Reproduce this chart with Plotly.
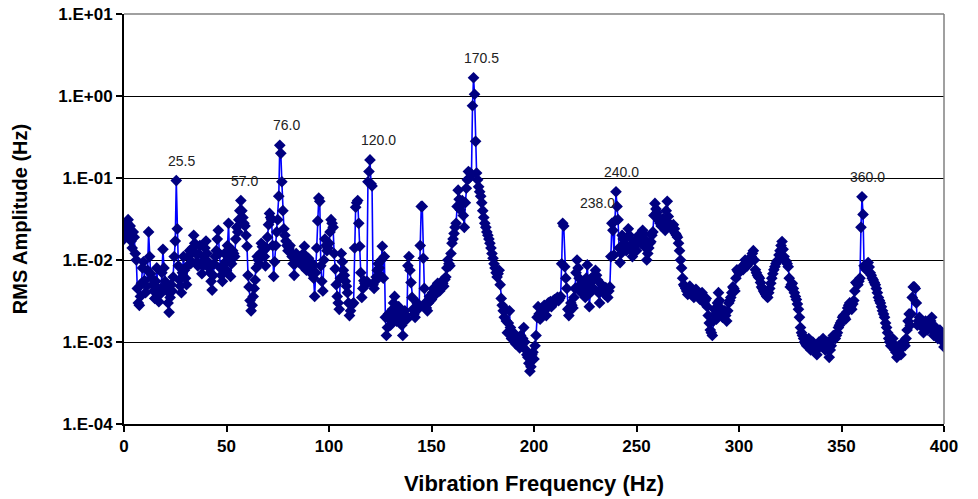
import math
import plotly.graph_objects as go

# ---------------- data ----------------
# samples on whole-Hz bins: 0, 1, ..., 400 Hz
freq_hz = list(range(0, 401))
rms_amp = [
    0.018, 0.022, 0.031, 0.026, 0.014, 0.019, 0.010, 0.0030, 0.0036, 0.0080,
    0.0056, 0.0048, 0.022, 0.0068, 0.0050, 0.0034, 0.0080, 0.0031, 0.0045, 0.0135,
    0.0055, 0.0042, 0.0023, 0.0050, 0.0062, 0.017, 0.024, 0.0057, 0.0040, 0.011,
    0.0060, 0.0085, 0.0130, 0.0095, 0.020, 0.012, 0.0085, 0.015, 0.0068, 0.011,
    0.017, 0.0095, 0.0070, 0.0043, 0.0090, 0.013, 0.023, 0.0080, 0.0055, 0.012,
    0.0075, 0.028, 0.0063, 0.013, 0.011, 0.025, 0.031, 0.053, 0.033, 0.026,
    0.0147, 0.0047, 0.0024, 0.0036, 0.0057, 0.011, 0.0090, 0.016, 0.013, 0.0085,
    0.019, 0.037, 0.031, 0.0063, 0.015, 0.031, 0.25, 0.090, 0.024, 0.017,
    0.013, 0.015, 0.011, 0.0065, 0.012, 0.0095, 0.011, 0.0085, 0.0147, 0.0075,
    0.0105, 0.0070, 0.0090, 0.0036, 0.014, 0.057, 0.0085, 0.0042, 0.018, 0.013,
    0.016, 0.031, 0.025, 0.0078, 0.0036, 0.0025, 0.012, 0.0075, 0.0055, 0.0040,
    0.0021, 0.0028, 0.0030, 0.044, 0.053, 0.0147, 0.0035, 0.0056, 0.0050, 0.090,
    0.166, 0.080, 0.0045, 0.0062, 0.0090, 0.0065, 0.0147, 0.011, 0.0012, 0.0022,
    0.0016, 0.0025, 0.0036, 0.0018, 0.0027, 0.0020, 0.0012, 0.0024, 0.0019, 0.011,
    0.0053, 0.0025, 0.0020, 0.0030, 0.0026, 0.045, 0.0105, 0.0030, 0.0024, 0.0036,
    0.0033, 0.0045, 0.0038, 0.0052, 0.0042, 0.0055, 0.0048, 0.0062, 0.0100, 0.0085,
    0.016, 0.021, 0.028, 0.071, 0.041, 0.053, 0.025, 0.075, 0.12, 0.115,
    0.76, 1.05, 0.115, 0.078, 0.060, 0.040, 0.028, 0.022, 0.018, 0.014,
    0.0105, 0.0080, 0.0062, 0.0075, 0.0034, 0.0024, 0.0025, 0.0013, 0.0024, 0.0011,
    0.0013, 0.00095, 0.0011, 0.00085, 0.0009, 0.0015, 0.0008, 0.00065, 0.00044, 0.0007,
    0.00062, 0.0012, 0.0027, 0.0019, 0.0024, 0.0028, 0.0021, 0.0030, 0.0031, 0.0030,
    0.0033, 0.0034, 0.0032, 0.0036, 0.028, 0.0083, 0.0045, 0.0021, 0.0030, 0.0026,
    0.0045, 0.010, 0.0060, 0.0040, 0.0055, 0.0035, 0.0087, 0.0027, 0.0060, 0.0045,
    0.0075, 0.0057, 0.0030, 0.0050, 0.0042, 0.0046, 0.0035, 0.0047, 0.028, 0.0115,
    0.068, 0.031, 0.0093, 0.020, 0.016, 0.013, 0.024, 0.015, 0.011, 0.017,
    0.013, 0.020, 0.016, 0.023, 0.018, 0.010, 0.014, 0.0167, 0.022, 0.049,
    0.038, 0.030, 0.026, 0.032, 0.023, 0.052, 0.028, 0.024, 0.027, 0.021,
    0.019, 0.013, 0.0080, 0.0050, 0.0045, 0.0038, 0.0048, 0.0040, 0.0035, 0.0044,
    0.0037, 0.0033, 0.0040, 0.0030, 0.0034, 0.0021, 0.0014, 0.0012, 0.0025, 0.0019,
    0.0040, 0.0026, 0.0020, 0.0024, 0.0018, 0.0030, 0.0035, 0.0047, 0.0042, 0.0076,
    0.0070, 0.0080, 0.0076, 0.010, 0.0085, 0.0095, 0.011, 0.013, 0.0076, 0.0065,
    0.0060, 0.0047, 0.0042, 0.0038, 0.0035, 0.0045, 0.0060, 0.0076, 0.0090, 0.010,
    0.013, 0.0168, 0.011, 0.0095, 0.0083, 0.0047, 0.0052, 0.0040, 0.0033, 0.0025,
    0.0015, 0.0012, 0.0010, 0.0009, 0.0011, 0.0008, 0.0010, 0.00085, 0.0007, 0.0010,
    0.0009, 0.0011, 0.0008, 0.0010, 0.00065, 0.0009, 0.0012, 0.0011, 0.0013, 0.0016,
    0.0018, 0.0021, 0.0019, 0.0026, 0.0030, 0.0025, 0.0032, 0.0053, 0.0050, 0.0060,
    0.059, 0.0085, 0.0076, 0.0093, 0.0070, 0.0060, 0.0053, 0.0045, 0.0035, 0.0030,
    0.0024, 0.0020, 0.0015, 0.0011, 0.0009, 0.0011, 0.0008, 0.00065, 0.0009, 0.0007,
    0.0010, 0.0009, 0.0014, 0.0022, 0.0022, 0.0047, 0.0045, 0.0016, 0.0020, 0.0017,
    0.0013, 0.0018, 0.0014, 0.0016, 0.0020, 0.0012, 0.0015, 0.0011, 0.0014, 0.0012,
    0.00087,
]
# samples on half-Hz bins: 0.5, 1.5, ..., 399.5 Hz
half_freq_hz = [i + 0.5 for i in range(400)]
half_rms_amp = [
    0.024, 0.028, 0.020, 0.017, 0.022, 0.012, 0.0045, 0.0028, 0.0052, 0.0095,
    0.0040, 0.0075, 0.0110, 0.0060, 0.0042, 0.0055, 0.0045, 0.0038, 0.0070, 0.0080,
    0.0048, 0.0030, 0.0035, 0.0042, 0.0110, 0.093, 0.0085, 0.0048, 0.0070, 0.0075,
    0.0050, 0.0110, 0.0090, 0.0140, 0.0160, 0.0095, 0.0120, 0.0090, 0.0085, 0.0140,
    0.0120, 0.0080, 0.0055, 0.0065, 0.0110, 0.0180, 0.0120, 0.0065, 0.0085, 0.0095,
    0.0150, 0.0110, 0.0090, 0.0120, 0.0180, 0.022, 0.040, 0.040, 0.028, 0.020,
    0.0065, 0.0032, 0.0028, 0.0045, 0.0080, 0.0100, 0.0120, 0.0145, 0.0110, 0.0140,
    0.027, 0.033, 0.0150, 0.0095, 0.022, 0.060, 0.20, 0.040, 0.020, 0.0150,
    0.0140, 0.0125, 0.0090, 0.0090, 0.0110, 0.0100, 0.0095, 0.0120, 0.0100, 0.0090,
    0.0085, 0.0080, 0.0060, 0.0070, 0.030, 0.052, 0.0055, 0.0100, 0.0150, 0.0140,
    0.022, 0.028, 0.0120, 0.0050, 0.0030, 0.0060, 0.0095, 0.0065, 0.0048, 0.0030,
    0.0024, 0.0029, 0.0140, 0.050, 0.028, 0.0070, 0.0045, 0.0052, 0.0055, 0.120,
    0.085, 0.0050, 0.0055, 0.0075, 0.0080, 0.0100, 0.0060, 0.0020, 0.0015, 0.0019,
    0.0021, 0.0030, 0.0024, 0.0022, 0.0023, 0.0016, 0.0018, 0.0021, 0.0085, 0.0075,
    0.0035, 0.0022, 0.0025, 0.0028, 0.0150, 0.045, 0.0045, 0.0026, 0.0030, 0.0032,
    0.0040, 0.0042, 0.0046, 0.0047, 0.0050, 0.0052, 0.0058, 0.0080, 0.0090, 0.0120,
    0.018, 0.025, 0.045, 0.055, 0.047, 0.035, 0.050, 0.095, 0.100, 0.110,
    1.67, 0.28, 0.095, 0.068, 0.050, 0.033, 0.025, 0.020, 0.016, 0.012,
    0.0090, 0.0070, 0.0068, 0.0050, 0.0028, 0.0020, 0.0018, 0.0017, 0.0015, 0.0012,
    0.0011, 0.0010, 0.0009, 0.0012, 0.0011, 0.0010, 0.0007, 0.00055, 0.0005, 0.00075,
    0.0009, 0.0020, 0.0022, 0.0021, 0.0026, 0.0025, 0.0026, 0.0028, 0.0027, 0.0032,
    0.0031, 0.0035, 0.0034, 0.0090, 0.026, 0.0060, 0.0025, 0.0024, 0.0028, 0.0035,
    0.0070, 0.0080, 0.0050, 0.0048, 0.0042, 0.0060, 0.0050, 0.0040, 0.0055, 0.0065,
    0.0065, 0.0040, 0.0042, 0.0046, 0.0038, 0.0040, 0.0042, 0.0110, 0.023, 0.030,
    0.045, 0.014, 0.012, 0.018, 0.014, 0.019, 0.020, 0.013, 0.014, 0.015,
    0.017, 0.018, 0.019, 0.021, 0.014, 0.012, 0.016, 0.020, 0.035, 0.042,
    0.034, 0.028, 0.029, 0.026, 0.040, 0.034, 0.026, 0.025, 0.024, 0.020,
    0.016, 0.010, 0.0060, 0.0048, 0.0042, 0.0043, 0.0044, 0.0037, 0.0040, 0.0040,
    0.0035, 0.0036, 0.0035, 0.0032, 0.0027, 0.0017, 0.0013, 0.0018, 0.0022, 0.0030,
    0.0032, 0.0023, 0.0022, 0.0021, 0.0024, 0.0032, 0.0040, 0.0045, 0.0060, 0.0073,
    0.0075, 0.0078, 0.0088, 0.0092, 0.0090, 0.0100, 0.0120, 0.0100, 0.0070, 0.0062,
    0.0053, 0.0045, 0.0040, 0.0036, 0.0040, 0.0052, 0.0068, 0.0083, 0.0095, 0.0115,
    0.0150, 0.0135, 0.0100, 0.0090, 0.0060, 0.0050, 0.0045, 0.0036, 0.0029, 0.0020,
    0.0013, 0.0011, 0.00095, 0.0010, 0.0009, 0.0009, 0.0009, 0.00078, 0.0009, 0.00095,
    0.0010, 0.0009, 0.0009, 0.0008, 0.0008, 0.0011, 0.0012, 0.0012, 0.0015, 0.0017,
    0.0020, 0.0020, 0.0023, 0.0028, 0.0027, 0.0029, 0.0042, 0.0052, 0.0055, 0.025,
    0.036, 0.0080, 0.0085, 0.0082, 0.0065, 0.0057, 0.0050, 0.0040, 0.0032, 0.0027,
    0.0022, 0.0017, 0.0013, 0.0010, 0.0010, 0.0009, 0.00075, 0.0008, 0.0008, 0.0009,
    0.00095, 0.0011, 0.0018, 0.0016, 0.0035, 0.0047, 0.0030, 0.0018, 0.0018, 0.0015,
    0.0016, 0.0016, 0.0015, 0.0018, 0.0016, 0.0013, 0.0013, 0.0012, 0.0013, 0.0010,
]
assert len(rms_amp) == len(freq_hz) and len(half_rms_amp) == len(half_freq_hz)

peak_labels_hz = [25.5, 57.0, 76.0, 120.0, 170.5, 238.0, 240.0, 360.0]
peak_label_xshift = [5, 4, 7, 8, 8, -14, 5, 5]

y_tick_vals = [1e-4, 1e-3, 1e-2, 1e-1, 1e0, 1e1]
y_tick_text = ["1.E-04", "1.E-03", "1.E-02", "1.E-01", "1.E+00", "1.E+01"]
x_tick_vals = [0, 50, 100, 150, 200, 250, 300, 350, 400]

# ---------------- build ----------------
pts = sorted(zip(freq_hz + half_freq_hz, rms_amp + half_rms_amp))
x = [p[0] for p in pts]
y = [p[1] for p in pts]
lookup = dict(pts)

FONT = "Liberation Sans, Arial, sans-serif"

fig = go.Figure()
fig.add_trace(go.Scatter(
    x=x, y=y, mode="lines+markers",
    line=dict(color="#0000FF", width=1.6),
    marker=dict(symbol="diamond", size=9, color="#000080", line=dict(width=0)),
    showlegend=False, hoverinfo="x+y",
))

annotations = []
for f, dx in zip(peak_labels_hz, peak_label_xshift):
    annotations.append(dict(
        x=f, y=math.log10(lookup[f]), xref="x", yref="y",
        text=f"{f:.1f}", showarrow=False, xshift=dx, yshift=20,
        font=dict(family=FONT, size=14, color="#222222"),
    ))

fig.update_layout(
    width=978, height=499,
    margin=dict(l=124, r=34, t=14, b=75, autoexpand=False),
    paper_bgcolor="white", plot_bgcolor="white",
    font=dict(family=FONT, color="black"),
    annotations=annotations,
    shapes=[
        dict(type="line", xref="paper", yref="paper", x0=0, x1=1, y0=1, y1=1,
             line=dict(color="#808080", width=1.5), layer="above"),
        dict(type="line", xref="paper", yref="paper", x0=1, x1=1, y0=0, y1=1,
             line=dict(color="#808080", width=1.5), layer="above"),
    ],
)

fig.update_xaxes(
    range=[0, 400], tickvals=x_tick_vals, ticks="outside", ticklen=6,
    tickwidth=1.5, tickcolor="black", showline=True, linecolor="black",
    linewidth=2, showgrid=False, zeroline=False,
    tickfont=dict(family=FONT, size=17, color="black", weight="bold"),
    title=dict(text="<b>Vibration Frequency (Hz)</b>",
               font=dict(family=FONT, size=22, color="black"), standoff=20),
    automargin=False,
)
fig.update_yaxes(
    type="log", range=[-4, 1], tickvals=y_tick_vals, ticktext=y_tick_text,
    ticks="outside", ticklen=6, tickwidth=1.5, tickcolor="black",
    showline=True, linecolor="black", linewidth=2,
    showgrid=True, gridcolor="black", gridwidth=1, zeroline=False,
    tickfont=dict(family=FONT, size=17, color="black", weight="bold"),
    title=dict(text="<b>RMS Amplitude (Hz)</b>",
               font=dict(family=FONT, size=20, color="black"), standoff=25),
    automargin=False,
)

fig.write_html("out.html")
